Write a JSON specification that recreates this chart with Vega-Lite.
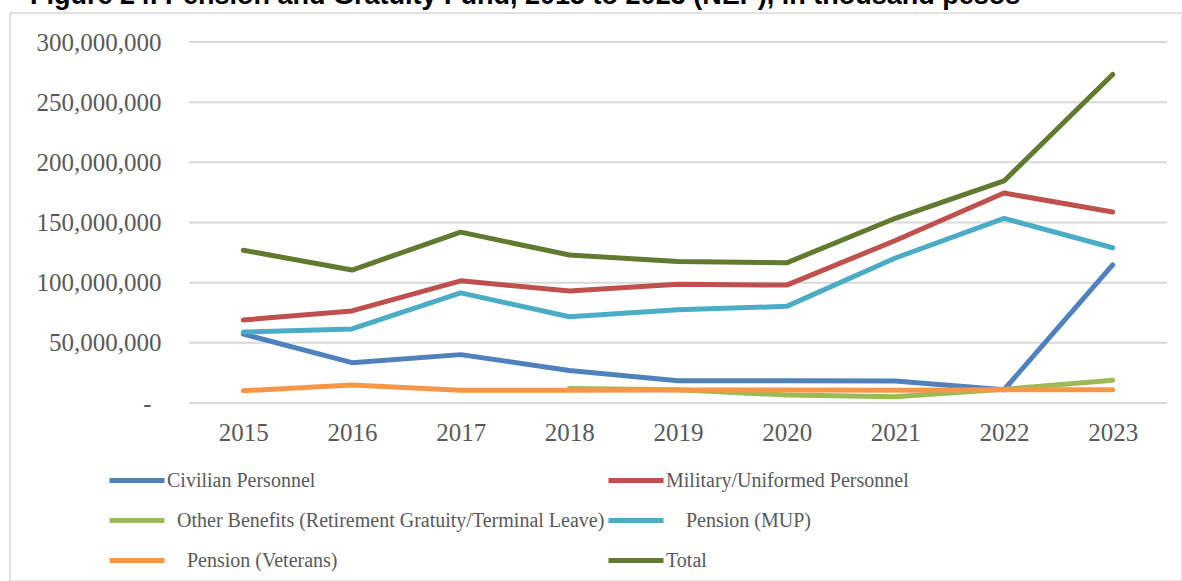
{
  "$schema": "https://vega.github.io/schema/vega-lite/v6.json",
  "autosize": "none",
  "width": 1172,
  "height": 568,
  "padding": {"left": 10, "top": 13, "right": 0, "bottom": 0},
  "background": "white",
  "title": {
    "text": "Figure 24. Pension and Gratuity Fund, 2015 to 2023 (NEP), in thousand pesos",
    "anchor": "start",
    "font": "Liberation Sans",
    "fontWeight": "bold",
    "fontSize": 27,
    "color": "#000000",
    "offset": 0,
    "dx": 20,
    "dy": -3
  },
  "config": {
    "view": {"stroke": "#d9d9d9", "strokeWidth": 1.5},
    "legend": {
      "orient": "none",
      "direction": "horizontal",
      "legendX": 97,
      "legendY": 437.5,
      "columns": 2,
      "columnPadding": -7,
      "rowPadding": -23,
      "symbolType": "stroke",
      "symbolSize": 3025,
      "symbolStrokeWidth": 5,
      "labelFont": "Liberation Serif",
      "labelFontSize": 20,
      "labelColor": "#595959",
      "labelOffset": 0,
      "labelLimit": 600,
      "title": null
    }
  },
  "layer": [
    {
      "data": {"values": [
        {"g": 0}, {"g": 50000000}, {"g": 100000000}, {"g": 150000000},
        {"g": 200000000}, {"g": 250000000}, {"g": 300000000}
      ]},
      "mark": {"type": "rule", "color": "#d9d9d9", "strokeWidth": 2},
      "encoding": {
        "x": {"datum": 2014.5, "type": "quantitative"},
        "x2": {"datum": 2023.5},
        "y": {"field": "g", "type": "quantitative"}
      }
    },
    {
      "data": {"values": [
        {"year": 2015, "series": "Civilian Personnel", "value": 57300000},
        {"year": 2016, "series": "Civilian Personnel", "value": 33500000},
        {"year": 2017, "series": "Civilian Personnel", "value": 40200000},
        {"year": 2018, "series": "Civilian Personnel", "value": 27000000},
        {"year": 2019, "series": "Civilian Personnel", "value": 18500000},
        {"year": 2020, "series": "Civilian Personnel", "value": 18500000},
        {"year": 2021, "series": "Civilian Personnel", "value": 18300000},
        {"year": 2022, "series": "Civilian Personnel", "value": 11000000},
        {"year": 2023, "series": "Civilian Personnel", "value": 114700000},
        {"year": 2015, "series": "Military/Uniformed Personnel", "value": 69000000},
        {"year": 2016, "series": "Military/Uniformed Personnel", "value": 76500000},
        {"year": 2017, "series": "Military/Uniformed Personnel", "value": 101500000},
        {"year": 2018, "series": "Military/Uniformed Personnel", "value": 93000000},
        {"year": 2019, "series": "Military/Uniformed Personnel", "value": 98700000},
        {"year": 2020, "series": "Military/Uniformed Personnel", "value": 98000000},
        {"year": 2021, "series": "Military/Uniformed Personnel", "value": 135000000},
        {"year": 2022, "series": "Military/Uniformed Personnel", "value": 174500000},
        {"year": 2023, "series": "Military/Uniformed Personnel", "value": 158700000},
        {"year": 2018, "series": "Other Benefits (Retirement Gratuity/Terminal Leave)", "value": 12000000},
        {"year": 2019, "series": "Other Benefits (Retirement Gratuity/Terminal Leave)", "value": 11000000},
        {"year": 2020, "series": "Other Benefits (Retirement Gratuity/Terminal Leave)", "value": 6600000},
        {"year": 2021, "series": "Other Benefits (Retirement Gratuity/Terminal Leave)", "value": 5200000},
        {"year": 2022, "series": "Other Benefits (Retirement Gratuity/Terminal Leave)", "value": 11500000},
        {"year": 2023, "series": "Other Benefits (Retirement Gratuity/Terminal Leave)", "value": 19000000},
        {"year": 2015, "series": "Pension (MUP)", "value": 59000000},
        {"year": 2016, "series": "Pension (MUP)", "value": 61500000},
        {"year": 2017, "series": "Pension (MUP)", "value": 91500000},
        {"year": 2018, "series": "Pension (MUP)", "value": 71700000},
        {"year": 2019, "series": "Pension (MUP)", "value": 77500000},
        {"year": 2020, "series": "Pension (MUP)", "value": 80300000},
        {"year": 2021, "series": "Pension (MUP)", "value": 120500000},
        {"year": 2022, "series": "Pension (MUP)", "value": 153500000},
        {"year": 2023, "series": "Pension (MUP)", "value": 129000000},
        {"year": 2015, "series": "Pension (Veterans)", "value": 10200000},
        {"year": 2016, "series": "Pension (Veterans)", "value": 15000000},
        {"year": 2017, "series": "Pension (Veterans)", "value": 10500000},
        {"year": 2018, "series": "Pension (Veterans)", "value": 10500000},
        {"year": 2019, "series": "Pension (Veterans)", "value": 10800000},
        {"year": 2020, "series": "Pension (Veterans)", "value": 10800000},
        {"year": 2021, "series": "Pension (Veterans)", "value": 10500000},
        {"year": 2022, "series": "Pension (Veterans)", "value": 11000000},
        {"year": 2023, "series": "Pension (Veterans)", "value": 11000000},
        {"year": 2015, "series": "Total", "value": 127000000},
        {"year": 2016, "series": "Total", "value": 110500000},
        {"year": 2017, "series": "Total", "value": 142000000},
        {"year": 2018, "series": "Total", "value": 123000000},
        {"year": 2019, "series": "Total", "value": 117500000},
        {"year": 2020, "series": "Total", "value": 116500000},
        {"year": 2021, "series": "Total", "value": 153500000},
        {"year": 2022, "series": "Total", "value": 184500000},
        {"year": 2023, "series": "Total", "value": 273000000}
      ]},
      "mark": {"type": "line", "strokeWidth": 5, "strokeCap": "round", "strokeJoin": "round"},
      "encoding": {
        "x": {
          "field": "year", "type": "quantitative",
          "scale": {"domain": [2014.5, 2023.5], "range": [179, 1157], "nice": false, "zero": false},
          "axis": {
            "values": [2015, 2016, 2017, 2018, 2019, 2020, 2021, 2022, 2023],
            "format": "d", "title": null, "ticks": false, "domain": false, "grid": false,
            "offset": -178, "labelPadding": 17,
            "labelFont": "Liberation Serif", "labelFontSize": 25, "labelColor": "#595959"
          }
        },
        "y": {
          "field": "value", "type": "quantitative",
          "scale": {"domain": [0, 300000000], "range": [390, 29], "nice": false},
          "axis": {
            "values": [0, 50000000, 100000000, 150000000, 200000000, 250000000, 300000000],
            "labelExpr": "datum.value == 0 ? '-' : format(datum.value, ',')",
            "title": null, "ticks": false, "domain": false, "grid": false,
            "offset": -159,
            "labelPadding": {"condition": {"test": "datum.value == 0", "value": 18}, "value": 8},
            "labelFont": "Liberation Serif", "labelFontSize": 25, "labelColor": "#595959"
          }
        },
        "color": {
          "field": "series", "type": "nominal",
          "scale": {
            "domain": ["Civilian Personnel", "Military/Uniformed Personnel", "Other Benefits (Retirement Gratuity/Terminal Leave)", "Pension (MUP)", "Pension (Veterans)", "Total"],
            "range": ["#4f81bd", "#c0504d", "#9bbb59", "#4bacc6", "#f79646", "#617a30"]
          },
          "legend": {
            "labelExpr": "datum.label == 'Other Benefits (Retirement Gratuity/Terminal Leave)' ? '\u200b\u2002' + datum.label : (datum.label == 'Pension (MUP)' || datum.label == 'Pension (Veterans)') ? '\u200b\u2002\u2002' + datum.label : datum.label"
          }
        }
      }
    }
  ]
}
